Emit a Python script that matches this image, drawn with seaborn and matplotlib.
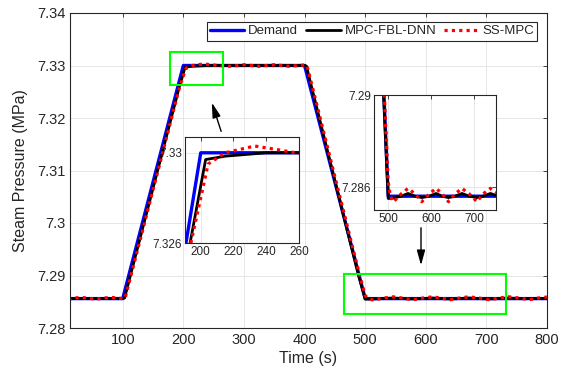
import matplotlib
matplotlib.use("Agg")
import matplotlib.pyplot as plt
from matplotlib.patches import Rectangle
import seaborn as sns
import pandas as pd

# ---- data ----
t_demand = [10, 100, 200, 400, 500, 800]
p_demand = [7.2856, 7.2856, 7.33, 7.33, 7.2856, 7.2856]

t_fbl = [10, 100, 103, 193.5, 203, 215, 240, 260, 400, 403, 489, 500, 512, 530, 546, 562,
         578, 595, 611, 625, 640, 655, 671, 688, 706, 720, 737, 755, 800]
p_fbl = [7.2856, 7.2856, 7.2857, 7.326, 7.3297, 7.32985, 7.33, 7.33, 7.33, 7.3299, 7.29,
         7.2855, 7.28552, 7.2856, 7.28572, 7.2856, 7.28554, 7.2856, 7.28572, 7.2856,
         7.28554, 7.2856, 7.28572, 7.2856, 7.28554, 7.2856, 7.28572, 7.2856, 7.2856]

t_ss = [10, 30, 55, 80, 100, 104, 194, 204.5, 215, 233, 250, 262, 280, 300, 325, 350, 375,
        400, 404, 491, 500, 505, 512, 530, 546, 562, 578, 595, 611, 625, 640, 655, 671, 688,
        706, 720, 737, 755, 770, 785, 800]
p_ss = [7.2855, 7.28585, 7.2855, 7.28585, 7.2856, 7.2857, 7.326, 7.3295, 7.33, 7.3303,
        7.3301, 7.32995, 7.32985, 7.33015, 7.32985, 7.33015, 7.32985, 7.3301, 7.33, 7.29,
        7.2862, 7.2856, 7.28535, 7.2857, 7.28594, 7.2857, 7.28536, 7.2857, 7.28594, 7.2857,
        7.28536, 7.2857, 7.28594, 7.2857, 7.28536, 7.2857, 7.28594, 7.2857, 7.28536, 7.2857,
        7.2859]

y_ticks = [7.28, 7.29, 7.30, 7.31, 7.32, 7.33, 7.34]
y_labels = ["7.28", "7.29", "7.3", "7.31", "7.32", "7.33", "7.34"]
x_ticks = [100, 200, 300, 400, 500, 600, 700, 800]

demand = pd.DataFrame({"t": t_demand, "p": p_demand})
fbl = pd.DataFrame({"t": t_fbl, "p": p_fbl})
ss = pd.DataFrame({"t": t_ss, "p": p_ss})

sns.set_style("whitegrid")
plt.rcParams.update({
    "font.family": ["Liberation Sans", "DejaVu Sans"],
    "axes.edgecolor": "#262626",
    "axes.linewidth": 0.8,
    "grid.color": "#e6e6e6",
    "grid.linewidth": 0.7,
    "xtick.direction": "in",
    "ytick.direction": "in",
    "xtick.color": "#262626",
    "ytick.color": "#262626",
    "text.color": "#262626",
    "axes.labelcolor": "#262626",
})


def draw(ax, legend=False):
    sns.lineplot(data=demand, x="t", y="p", ax=ax, color=(0, 0, 1), lw=2.4,
                 label="Demand" if legend else None, legend=False)
    sns.lineplot(data=fbl, x="t", y="p", ax=ax, color="black", lw=2.0,
                 label="MPC-FBL-DNN" if legend else None, legend=False)
    sns.lineplot(data=ss, x="t", y="p", ax=ax, color=(1, 0, 0), lw=2.3,
                 label="SS-MPC" if legend else None, legend=False)
    ax.lines[-1].set_dashes([1, 1.3])
    ax.set_xlabel("")
    ax.set_ylabel("")
    for s in ax.spines.values():
        s.set_visible(True)
        s.set_color("#262626")
    ax.tick_params(which="both", top=True, right=True, length=3, width=0.6)


fig = plt.figure(figsize=(5.67, 3.8), dpi=100)
ax = fig.add_axes([70 / 567, 1 - 328 / 380, 477 / 567, 315 / 380])
draw(ax, legend=True)
ax.set_xlim(13, 800)
ax.set_ylim(7.28, 7.34)
ax.set_xticks(x_ticks)
ax.set_yticks(y_ticks)
ax.set_yticklabels(y_labels)
ax.tick_params(labelsize=10.5)
ax.set_xlabel("Time (s)", fontsize=11.5, labelpad=3)
ax.set_ylabel("Steam Pressure (MPa)", fontsize=11.5, labelpad=6)
leg = ax.legend(ncol=3, loc="upper right", bbox_to_anchor=(0.98, 0.972),
                borderaxespad=0, fontsize=9.5, frameon=True, fancybox=False,
                handlelength=2.6, columnspacing=0.6, handletextpad=0.3,
                borderpad=0.25)
leg.get_frame().set_edgecolor("#262626")
leg.get_frame().set_linewidth(0.8)
leg.get_frame().set_alpha(1)

# zoom boxes
ax.add_patch(Rectangle((178, 7.3263), 87, 0.0063, fill=False, ec=(0, 1, 0), lw=1.5, zorder=5))
ax.add_patch(Rectangle((465, 7.2827), 268, 0.0076, fill=False, ec=(0, 1, 0), lw=1.5, zorder=5))

# inset 1
ax1 = fig.add_axes([185 / 567, 1 - 243 / 380, 114 / 567, 106 / 380])
ax1.set_facecolor("white")
draw(ax1)
ax1.set_xlim(190.4, 260)
ax1.set_ylim(7.326, 7.3307)
ax1.set_xticks([200, 220, 240, 260])
ax1.set_yticks([7.326, 7.33])
ax1.set_yticklabels(["7.326", "7.33"])
ax1.tick_params(labelsize=8.5, pad=2)

# inset 2
ax2 = fig.add_axes([374 / 567, 1 - 210 / 380, 122 / 567, 115 / 380])
ax2.set_facecolor("white")
draw(ax2)
ax2.set_xlim(467, 750)
ax2.set_ylim(7.285, 7.29)
ax2.set_xticks([500, 600, 700])
ax2.set_yticks([7.286, 7.29])
ax2.set_yticklabels(["7.286", "7.29"])
ax2.tick_params(labelsize=8.5, pad=2)

# arrows
arrow = dict(arrowstyle="-|>,head_length=0.9,head_width=0.25", color="black", lw=1.0)
ax.annotate("", xy=(211 / 567, 1 - 100 / 380), xytext=(222 / 567, 1 - 134 / 380),
            xycoords="figure fraction", textcoords="figure fraction", arrowprops=arrow)
ax.annotate("", xy=(421 / 567, 1 - 268 / 380), xytext=(421 / 567, 1 - 225 / 380),
            xycoords="figure fraction", textcoords="figure fraction", arrowprops=arrow)

fig.savefig("out.png", dpi=100)
